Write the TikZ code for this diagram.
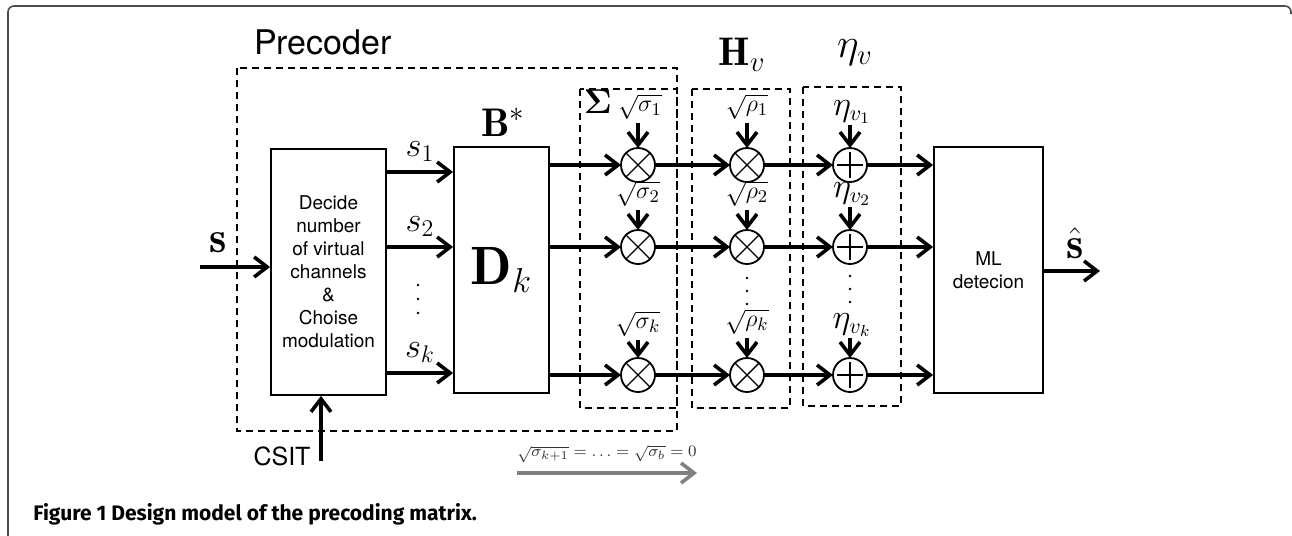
\documentclass[tikz,border=0pt]{standalone}
\usepackage{amsmath, amssymb}
\usepackage{fontspec}
\setsansfont{TeX Gyre Heros}
\newfontfamily\capfont{Fira Sans}
\usetikzlibrary{arrows.meta, positioning}

\begin{document}
\begin{tikzpicture}[x=0.5pt, y=-0.5pt,
        arr/.style={-{Straight Barb[length=6.5pt, width=10pt]}, line width=1.8pt},
        blk/.style={draw, line width=0.9pt, minimum height=123pt, inner sep=0pt, align=center,
            font=\sffamily\fontsize{9.5}{11.5}\selectfont},
        grp/.style={draw, line width=0.8pt, dash pattern=on 3.5pt off 2.5pt},
        mult/.style={circle, draw, line width=0.9pt, minimum size=17pt, inner sep=0pt, outer sep=0pt,
            path picture={\draw[line width=0.7pt]
                (path picture bounding box.north west) -- (path picture bounding box.south east)
                (path picture bounding box.north east) -- (path picture bounding box.south west);}},
        add/.style={circle, draw, line width=0.9pt, minimum size=17pt, inner sep=0pt, outer sep=0pt,
            path picture={\draw[line width=0.7pt]
                ([xshift=-6.5pt]path picture bounding box.center) -- ([xshift=6.5pt]path picture bounding box.center)
                ([yshift=-6.5pt]path picture bounding box.center) -- ([yshift=6.5pt]path picture bounding box.center);}},
        gain/.style={inner sep=1.5pt, font=\fontsize{12.5}{14}\selectfont},
        noise/.style={inner sep=0.5pt, font=\fontsize{16}{18}\selectfont},
        big/.style={inner sep=0pt, font=\fontsize{20}{24}\selectfont}]
    \useasboundingbox (0,0) rectangle (1292,536);

    % page frame
    \draw[line width=0.8pt, black!70, rounded corners=3pt] (8,536) -- (8,6) -- (1291,6) -- (1291,14);

    % group frames
    \draw[grp] (237,68) rectangle (677,431);
    \draw[grp] (580,89) rectangle (677,408);
    \draw[grp] (692,89) rectangle (790,408);
    \draw[grp] (803,87) rectangle (901,406);

    \node[inner sep=0pt, font=\sffamily\fontsize{17}{20}\selectfont] (prec) at (323,42) {Precoder};
    \node[big, font=\fontsize{17}{19}\selectfont] (sig) at (598,102) {$\boldsymbol{\Sigma}$};
    \node[big] (hv) at (742,55) {$\mathbf{H}_v$};
    \node[big] (eta) at (855,53) {$\eta_v$};
    \node[big] (bst) at (503,122) {$\mathbf{B}^*$};

    % blocks
    \node[blk, minimum width=57.5pt] (dec) at (328.5,272)
        {Decide\\number\\of virtual\\channels\\\&\\Choise\\modulation};
    \node[blk, minimum width=47.5pt, font=\fontsize{27}{30}\selectfont] (Dk) at (501.5,270) {$\mathbf{D}_k$};
    \node[blk, minimum width=54.5pt] (ml) at (988.5,270) {ML\\detecion};

    % inputs and output
    \coordinate (sin) at (200,267);
    \coordinate (sout) at (1100,271);
    \coordinate (cs) at (321,461);
    \path[arr] (sin) edge (dec.west |- sin)
        (ml.east |- sout) edge (sout)
        (cs) edge (cs |- dec.south);
    \node[font=\fontsize{22}{24}\selectfont] (sl) at (218,243) {$\mathbf{s}$};
    \node[font=\fontsize{22}{24}\selectfont] (shat) at (1075,243) {$\hat{\mathbf{s}}$};
    \node[font=\sffamily\fontsize{12.5}{14}\selectfont] (csit) at (282,456) {CSIT};

    % streams s_1 ... s_k
    \coordinate (r1) at (0,172);
    \coordinate (r2) at (0,247);
    \coordinate (r3) at (0,373);
    \path[arr, font=\fontsize{18}{20}\selectfont]
        (dec.east |- r1) edge node[above=1pt] {$s_1$} (Dk.west |- r1)
        (dec.east |- r2) edge node[above=1pt] {$s_2$} (Dk.west |- r2)
        (dec.east |- r3) edge node[above=1pt] {$s_k$} (Dk.west |- r3);
    \foreach \d in {0,14,28} \fill (418,285+\d) circle (0.7pt);

    % virtual channels
    \foreach \r/\y in {1/165, 2/247, 3/375} {
        \node[mult] (a\r) at (638,\y) {};
        \node[mult] (b\r) at (747,\y) {};
        \node[add] (c\r) at (850,\y) {};
        \path[arr] (Dk.east |- a\r) edge (a\r)
            (a\r) edge (b\r)
            (b\r) edge (c\r)
            (c\r) edge (ml.west |- c\r);
    }
    \node[gain] (ga1) at (640,107) {$\sqrt{\sigma_1}$};
    \node[gain] (ga2) at (638,194) {$\sqrt{\sigma_2}$};
    \node[gain] (ga3) at (638,324) {$\sqrt{\sigma_k}$};
    \node[gain] (gb1) at (747,107) {$\sqrt{\rho_1}$};
    \node[gain] (gb2) at (747,194) {$\sqrt{\rho_2}$};
    \node[gain] (gb3) at (747,322) {$\sqrt{\rho_k}$};
    \node[noise] (gc1) at (852,112) {$\eta_{v_1}$};
    \node[noise] (gc2) at (852,194) {$\eta_{v_2}$};
    \node[noise] (gc3) at (852,325) {$\eta_{v_k}$};
    \foreach \r in {1,2,3}
        \path[arr] (ga\r.south -| a\r) edge (a\r)
            (gb\r.south -| b\r) edge (b\r)
            (gc\r.south -| c\r) edge (c\r);
    \foreach \d in {0,13,26} {
        \fill (747,278+\d) circle (0.7pt);
        \fill (850,276+\d) circle (0.7pt);
    }

    % zero gains
    \coordinate (g0) at (517,473);
    \coordinate (g1) at (697,473);
    \draw[arr, black!50] (g0) -- node[above=1pt, black!80, font=\fontsize{8.5}{10}\selectfont]
        {$\sqrt{\sigma_{k+1}}=\ldots=\sqrt{\sigma_b}=0$} (g1);

    \node[anchor=base west, inner sep=0pt, font=\capfont\bfseries\fontsize{10.5}{13}\selectfont] (cap) at (33,520)
        {Figure 1 Design model of the precoding matrix.};
\end{tikzpicture}
\end{document}
